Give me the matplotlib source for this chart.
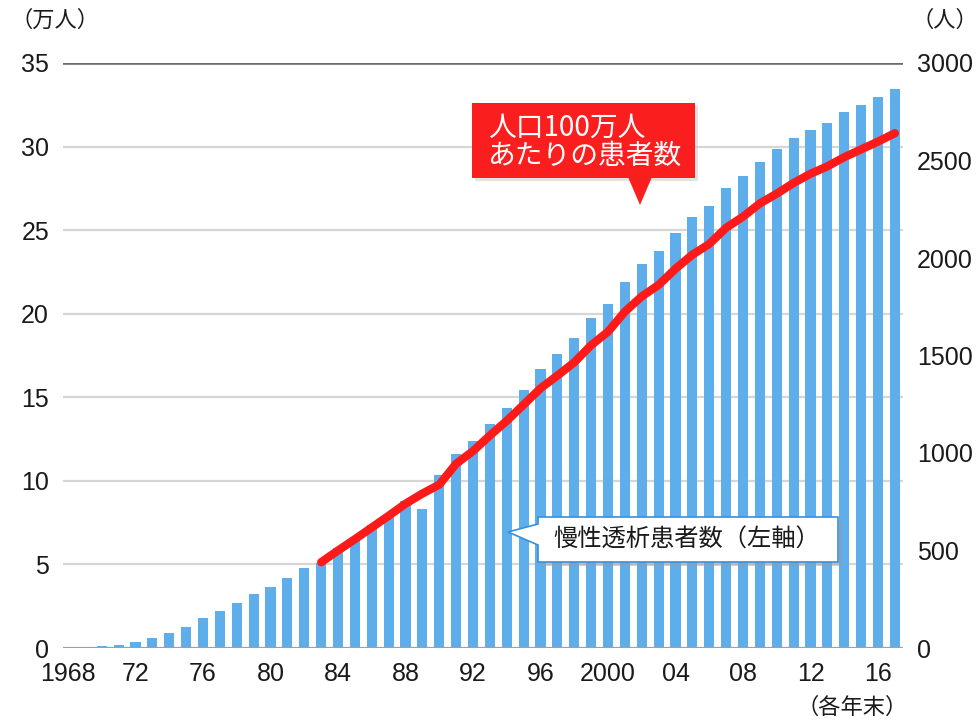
import matplotlib
matplotlib.use("Agg")
import matplotlib.pyplot as plt
from matplotlib.patches import Polygon, Rectangle

plt.rcParams['font.family'] = ['Noto Sans CJK JP', 'DejaVu Sans']

# 慢性透析患者数（万人）, 1968-2017 各年末
years = list(range(1968, 2018))
patients = [0.02, 0.05, 0.09, 0.18, 0.34, 0.57, 0.90, 1.28, 1.77, 2.22,
            2.69, 3.21, 3.63, 4.19, 4.79, 5.07, 5.98, 6.63, 7.34, 8.04,
            8.82, 8.32, 10.33, 11.63, 12.39, 13.43, 14.37, 15.44, 16.72, 17.60,
            18.53, 19.72, 20.61, 21.92, 22.95, 23.77, 24.82, 25.78, 26.45, 27.52,
            28.26, 29.07, 29.83, 30.49, 31.00, 31.42, 32.04, 32.50, 32.96, 33.45]

# 人口100万人あたりの患者数, 1983-2017
rate_years = list(range(1983, 2018))
rate = [440, 500, 558, 618, 678, 740, 792, 838, 945, 1010,
        1090, 1165, 1248, 1332, 1397, 1465, 1553, 1622, 1725, 1803,
        1862, 1945, 2017, 2072, 2155, 2212, 2280, 2330, 2385, 2432,
        2470, 2517, 2557, 2597, 2640]

xtick_years = [1968, 1972, 1976, 1980, 1984, 1988, 1992, 1996, 2000, 2004, 2008, 2012, 2016]
xtick_labels = ['1968', '72', '76', '80', '84', '88', '92', '96', '2000', '04', '08', '12', '16']

W, H = 978, 721


def px(x, y):
    return (x / W, 1 - y / H)


fig = plt.figure(figsize=(W / 100, H / 100), dpi=100)
ax = fig.add_axes([63 / W, 1 - 648 / H, (903 - 63) / W, (648 - 63) / H])
ax2 = ax.twinx()

# gridlines
for v in [5, 10, 15, 20, 25, 30]:
    ax.axhline(v, color='#d6d6d6', lw=1.6, zorder=0)
ax.axhline(35, color='#6a6a6a', lw=2.6, zorder=0)
ax.axhline(0, color='#a0a0a0', lw=1.6, zorder=3)

ax.bar(years, patients, width=0.6, color='#5eaeec', zorder=2)
ax2.plot(rate_years, rate, color='#ff1a1a', lw=6, solid_capstyle='round', zorder=4)

ax.set_xlim(1967.7, 2017.48)
ax.set_ylim(0, 35)
ax2.set_ylim(0, 3000)

ax.set_yticks(range(0, 36, 5))
ax2.set_yticks(range(0, 3001, 500))
ax.set_xticks(xtick_years)
ax.set_xticklabels(xtick_labels)

for a in (ax, ax2):
    for s in a.spines.values():
        s.set_visible(False)
ax.tick_params(axis='both', length=0, labelsize=18, colors='#1a1a1a')
ax.tick_params(axis='y', pad=10)
ax.tick_params(axis='x', pad=10)
ax2.tick_params(axis='y', length=0, labelsize=18, colors='#1a1a1a', pad=10)
for lbl in ax.get_xticklabels() + ax.get_yticklabels() + ax2.get_yticklabels():
    lbl.set_family(['Liberation Sans', 'DejaVu Sans'])

# unit labels
fig.text(*px(10, 20), '（万人）', fontsize=16, va='center', ha='left', color='#1a1a1a')
fig.text(*px(978, 20), '（人）', fontsize=16, va='center', ha='right', color='#1a1a1a')
fig.text(*px(908, 707), '（各年末）', fontsize=16, va='center', ha='right', color='#1a1a1a')

# red callout
tf = fig.transFigure
fig.patches.append(Rectangle(px(475, 181), 223 / W, 75 / H, transform=tf,
                             facecolor='#c8c8c8', edgecolor='none', alpha=0.5, zorder=5))
fig.patches.append(Rectangle(px(472, 178), 223 / W, 75 / H, transform=tf,
                             facecolor='#fa1e1e', edgecolor='none', zorder=6))
fig.patches.append(Polygon([px(628, 177), px(640, 205), px(652, 177)], closed=True,
                           transform=tf, facecolor='#fa1e1e', edgecolor='none', zorder=6))
fig.text(*px(488, 128), '人口100万人', fontsize=20, color='white', va='center', ha='left', zorder=7)
fig.text(*px(488, 156), 'あたりの患者数', fontsize=20, color='white', va='center', ha='left', zorder=7)

# white callout
fig.patches.append(Rectangle(px(542, 566), 300 / W, 45 / H, transform=tf,
                             facecolor='#9a9a9a', edgecolor='none', alpha=0.45, zorder=5))
fig.patches.append(Polygon([px(538, 517), px(838, 517), px(838, 562), px(538, 562),
                            px(538, 545), px(508, 532), px(538, 524)], closed=True,
                           transform=tf, facecolor='white', edgecolor='#3a8ede', lw=1.2, zorder=6))
fig.text(*px(553, 540), '慢性透析患者数（左軸）', fontsize=17.5, color='#1a1a1a',
         va='center', ha='left', zorder=7)

fig.savefig('out.png', dpi=100)
